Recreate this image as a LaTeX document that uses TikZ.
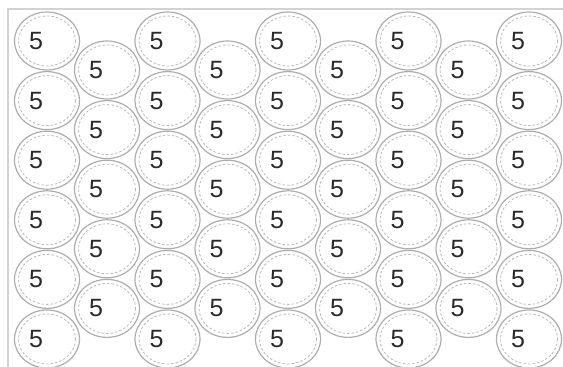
\documentclass[tikz,border=0pt]{standalone}
\usepackage{fontspec}
\setmainfont{Liberation Sans}
\usepackage{tikz}
\usetikzlibrary{shapes.geometric}
\definecolor{rimgray}{HTML}{ADADAD}
\definecolor{dashgray}{HTML}{B8B8B8}
\definecolor{framegray}{HTML}{D2D2D2}
\definecolor{digitgray}{HTML}{2A2A2A}

\begin{document}
\begin{tikzpicture}[x=1pt,y=-1pt,
  ball/.style={ellipse,draw=rimgray,line width=1.2pt,minimum width=65pt,minimum height=58pt,inner sep=0pt},
  rim/.style={draw=dashgray,line width=0.8pt,dash pattern=on 2.5pt off 2pt},
  num/.style={font=\fontsize{25}{25}\selectfont,text=digitgray,xshift=-11pt,inner sep=0pt}
]
\useasboundingbox (0,0) rectangle (563,367);
\draw[framegray,line width=2pt] (8,367) -- (8,9) -- (563,9);
\foreach \i in {0,...,4}
  \foreach \j in {0,...,5}{
    \node[ball] (o\i\j) at (47+120.5*\i,41+59.6*\j) {};
    \draw[rim] (o\i\j.center) ellipse (28.5 and 25);
    \node[num] (on\i\j) at (o\i\j) {5};
  }
\foreach \i in {0,...,3}
  \foreach \j in {0,...,4}{
    \node[ball] (e\i\j) at (107+120.5*\i,70+59.6*\j) {};
    \draw[rim] (e\i\j.center) ellipse (28.5 and 25);
    \node[num] (en\i\j) at (e\i\j) {5};
  }
\end{tikzpicture}
\end{document}
